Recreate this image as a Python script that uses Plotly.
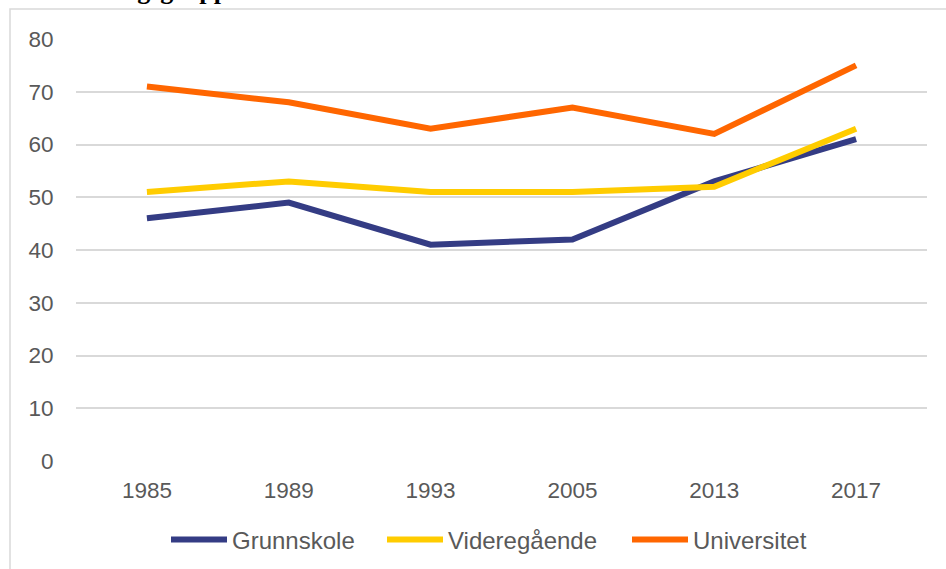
import plotly.graph_objects as go

years = ["1985", "1989", "1993", "2005", "2013", "2017"]
grunnskole = [46, 49, 41, 42, 53, 61]
videregaende = [51, 53, 51, 51, 52, 63]
universitet = [71, 68, 63, 67, 62, 75]
y_ticks = [0, 10, 20, 30, 40, 50, 60, 70, 80]

series = [
    ("Grunnskole", grunnskole, "#343C84", 145),
    ("Videregående", videregaende, "#FFCC00", 174),
    ("Universitet", universitet, "#FF6600", 130),
]

W, H = 946, 569
L, R, T, B = 76, 19, 39, 108
pw, ph = W - L - R, H - T - B

def px_to_paper_x(px):
    return (px - L) / pw

def px_to_paper_y(py):
    return 1 - (py - T) / ph

fig = go.Figure()
for name, vals, col, lw in series:
    fig.add_trace(go.Scatter(x=years, y=vals, name=name, mode="lines",
                             line=dict(color=col, width=6), legendwidth=lw))

font_family = "Liberation Sans, Arial, sans-serif"
fig.update_layout(
    width=W, height=H,
    margin=dict(l=L, r=R, t=T, b=B, autoexpand=False),
    paper_bgcolor="white", plot_bgcolor="white",
    font=dict(family=font_family, color="#595959", size=22),
    xaxis=dict(type="category", range=[-0.5, len(years) - 0.5],
               showgrid=False, zeroline=False, showline=False,
               ticks="outside", ticklen=9, tickcolor="rgba(0,0,0,0)",
               tickfont=dict(size=22.5, color="#595959")),
    yaxis=dict(range=[0, 80], tickvals=y_ticks, showgrid=True, gridcolor="#D9D9D9",
               gridwidth=1.5, zeroline=False, showline=False,
               ticks="outside", ticklen=17, tickcolor="rgba(0,0,0,0)",
               tickfont=dict(size=22.5, color="#595959")),
    legend=dict(orientation="h", x=px_to_paper_x(166), xanchor="left", y=px_to_paper_y(540), yanchor="middle",
                font=dict(size=24, color="#595959"), itemwidth=56, traceorder="normal"),
    showlegend=True,
)

# outer chart border (partially cropped in reference)
fig.add_shape(type="rect", xref="paper", yref="paper",
              x0=px_to_paper_x(10), x1=px_to_paper_x(W + 20),
              y0=px_to_paper_y(9), y1=px_to_paper_y(H + 20),
              line=dict(color="#D9D9D9", width=1.5), fillcolor="rgba(0,0,0,0)", layer="below")

# cropped title (only descenders visible in reference)
fig.add_annotation(text="<b>utdanningsgruppe</b>", xref="paper", yref="paper",
                   x=px_to_paper_x(34), xanchor="left",
                   y=px_to_paper_y(7), yanchor="bottom", showarrow=False,
                   font=dict(family="Liberation Serif, Times New Roman, serif", size=26, color="black"))

fig.write_html("out.html", config={"displayModeBar": False},
               post_script="document.body.style.margin='0';document.body.style.overflow='hidden';")
